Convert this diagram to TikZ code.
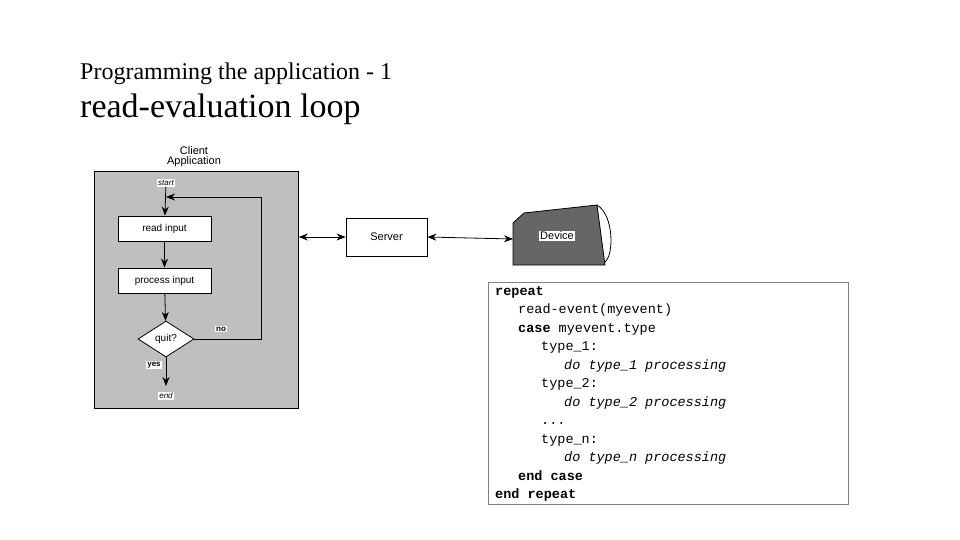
\documentclass[tikz,border=0pt]{standalone}
\usepackage{fontspec}
\setmainfont{Liberation Serif}
\newfontfamily\dsans{Liberation Sans}
\newfontfamily\dmono{Liberation Mono}
\usetikzlibrary{arrows.meta,shapes.geometric}
\begin{document}
\begin{tikzpicture}[x=1pt,y=-1pt,
  box/.style={draw,thick,fill=white,font=\dsans\fontsize{10}{10}\selectfont,inner sep=0},
  lab/.style={fill=white,inner sep=1pt,font=\dsans\fontsize{9}{9}\selectfont},
  arr/.style={thick,-{Stealth[length=9pt,width=7pt]}},
  code/.style={anchor=base west,inner sep=0,font=\dmono\fontsize{13.5}{14}\selectfont}]
\useasboundingbox (0,0) rectangle (960,540);
\node[anchor=base west,inner sep=0,font=\fontsize{24}{24}\selectfont] (t1) at (80,80) {Programming the application - 1};
\node[anchor=base west,inner sep=0,font=\fontsize{34}{34}\selectfont] (t2) at (80,118) {read-evaluation loop};
\node[draw,thick,fill=black!25,minimum width=204,minimum height=237,anchor=north west,inner sep=0] (client) at (94,171) {};
\node[font=\dsans\fontsize{11}{11}\selectfont,align=center,inner sep=0] (ctitle) at (194,157) {Client\\[-1pt]Application};
\node[lab,font=\dsans\itshape\fontsize{8}{8}\selectfont] (start) at (166,183) {start};
\node[box,minimum width=93,minimum height=25] (read) at (164.5,228.5) {read input};
\node[box,minimum width=93,minimum height=25] (proc) at (164.5,280.5) {process input};
\node[box,diamond,aspect=1.55,minimum width=56,minimum height=36] (quit) at (166,339) {quit?};
\node[lab,font=\dsans\bfseries\fontsize{8}{8}\selectfont] (no) at (221,329) {no};
\node[lab,font=\dsans\bfseries\fontsize{8}{8}\selectfont] (yes) at (154,365) {yes};
\node[lab,font=\dsans\itshape\fontsize{8}{8}\selectfont] (end) at (166,396) {end};
\coordinate (loop) at (166,197);
\draw[arr] (start) -- (read);
\draw[arr] (read) -- (proc);
\draw[arr] (proc) -- (quit);
\draw[arr] (quit) -- (166,386);
\draw[arr] (quit.east) -- (261,339) -- (261,197) -- (loop);
\node[box,minimum width=81,minimum height=38,font=\dsans\fontsize{11}{11}\selectfont] (server) at (386.5,237) {Server};
\draw[thick,fill=black!60] (513,265) -- (513,223) -- (524,213) -- (597,205) -- (605,265) -- cycle;
\draw[thick] (597,205) .. controls (614,215) and (614,255) .. (605,262);
\node[lab,font=\dsans\fontsize{11}{11}\selectfont] (device) at (557,236) {Device};
\coordinate (devl) at (513,239);
\draw[thick,{Stealth[length=9pt,width=7pt]}-{Stealth[length=9pt,width=7pt]}] (client.east |- server) -- (server.west);
\draw[thick,{Stealth[length=9pt,width=7pt]}-{Stealth[length=9pt,width=7pt]}] (server.east) -- (devl);
\node[draw=black!50,minimum width=360,minimum height=222,anchor=north west,inner sep=0] (codebox) at (488,282) {};
\node[code,font=\dmono\bfseries\fontsize{13.5}{14}\selectfont] (c1) at (495,295) {repeat};
\node[code] (c2) at (518,313.5) {read-event(myevent)};
\node[code] (c3) at (518,332) {\textbf{case} myevent.type};
\node[code] (c4) at (541,350.5) {type\_1:};
\node[code] (c5) at (564,369) {\itshape do type\_1 processing};
\node[code] (c6) at (541,387.5) {type\_2:};
\node[code] (c7) at (564,406) {\itshape do type\_2 processing};
\node[code] (c8) at (541,424.5) {...};
\node[code] (c9) at (541,443) {type\_n:};
\node[code] (c10) at (564,461.5) {\itshape do type\_n processing};
\node[code,font=\dmono\bfseries\fontsize{13.5}{14}\selectfont] (c11) at (518,480) {end case};
\node[code,font=\dmono\bfseries\fontsize{13.5}{14}\selectfont] (c12) at (495,498.5) {end repeat};
\end{tikzpicture}
\end{document}
